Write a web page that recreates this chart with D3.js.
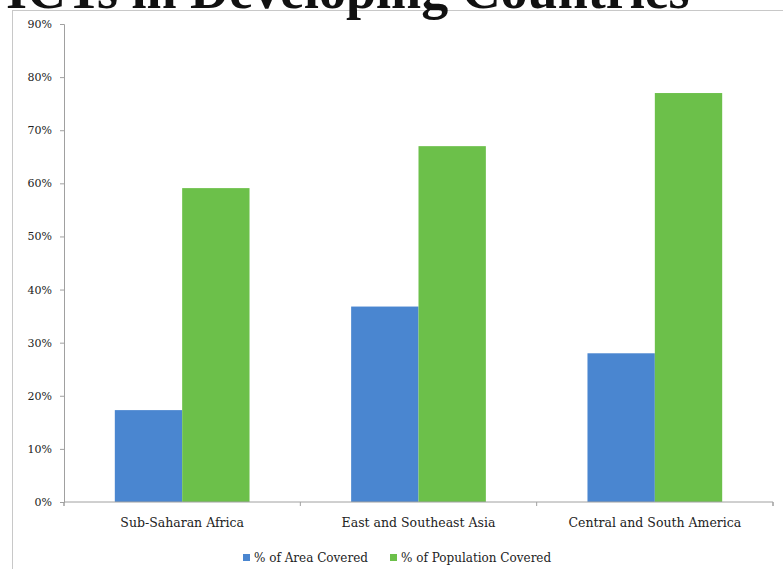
<!DOCTYPE html>
<html><head><meta charset="utf-8">
<script src="https://cdn.jsdelivr.net/npm/d3@7"></script>
<style>
html,body{margin:0;padding:0;background:#fff;overflow:hidden}
svg{display:block}
</style></head>
<body>
<svg id="chart" width="783" height="569"></svg>
<script>
const title = "ICTs in Developing Countries";
const categories = ["Sub-Saharan Africa", "East and Southeast Asia", "Central and South America"];
const seriesNames = ["% of Area Covered", "% of Population Covered"];
const areaCovered = [17.3, 36.8, 28.0];
const populationCovered = [59.1, 67.0, 77.0];
const yTicks = [0, 10, 20, 30, 40, 50, 60, 70, 80, 90];
const colors = ["#4a86d0", "#6cc04a"];

const svg = d3.select("#chart");
const W = 783, H = 569;
const margin = {left: 64, right: 10, top: 24, bottom: 67};

// frame
svg.append("rect").attr("x", 12.5).attr("y", 10.5).attr("width", W).attr("height", H)
  .attr("fill", "#fff").attr("stroke", "#c8c8c8").attr("stroke-width", 1);

const x0 = d3.scaleBand().domain(categories).range([margin.left, 773]).paddingInner(0.43).paddingOuter(0.215);
const x1 = d3.scaleBand().domain(seriesNames).range([0, x0.bandwidth()]);
const y = d3.scaleLinear().domain([0, 90]).range([502, 24]);

const font = "'DejaVu Serif', 'Liberation Serif', serif";

// y axis
const yAxis = d3.axisLeft(y).tickValues(yTicks).tickFormat(d => d + "%").tickSize(4).tickPadding(8);
const gy = svg.append("g").attr("transform", `translate(${margin.left},0)`).call(yAxis);
gy.select(".domain").attr("stroke", "#a0a0a0");
gy.selectAll(".tick line").attr("stroke", "#a0a0a0");
gy.selectAll(".tick text").attr("font-family", font).attr("font-size", 11).attr("fill", "#222");

// bars
const data = categories.map((c, i) => ({cat: c, vals: [areaCovered[i], populationCovered[i]]}));
const groups = svg.append("g").selectAll("g").data(data).join("g")
  .attr("transform", d => `translate(${x0(d.cat)},0)`);
groups.selectAll("rect").data(d => d.vals.map((v, j) => ({s: seriesNames[j], v, j})))
  .join("rect")
  .attr("x", d => x1(d.s))
  .attr("width", x1.bandwidth())
  .attr("y", d => y(d.v))
  .attr("height", d => y(0) - y(d.v))
  .attr("fill", d => colors[d.j]);

// x axis
const xAxis = d3.axisBottom(x0).tickSize(0).tickPadding(16);
const gx = svg.append("g").attr("transform", `translate(0,${y(0)})`).call(xAxis);
gx.select(".domain").attr("stroke", "#a0a0a0").attr("d", `M${margin.left},4V0H773V4`);
gx.selectAll(".tick text").attr("font-family", font).attr("font-size", 12.5).attr("fill", "#222");
// category separator ticks
const seps = [margin.left, ...categories.slice(1).map(c => x0(c) - x0.step() * x0.paddingInner() / 2), 773];
gx.selectAll(".sep").data(seps).join("line").attr("class", "sep")
  .attr("x1", d => d).attr("x2", d => d).attr("y1", 0).attr("y2", 4).attr("stroke", "#a0a0a0");

// legend
const legend = svg.append("g").attr("transform", "translate(0,558)");
const legX = [243, 390];
seriesNames.forEach((s, i) => {
  legend.append("rect").attr("x", legX[i]).attr("y", -4).attr("width", 7).attr("height", 7).attr("fill", colors[i]);
  legend.append("text").attr("x", legX[i] + 11).attr("y", 4)
    .attr("font-family", font).attr("font-size", 12).attr("fill", "#222").text(s);
});

// title (cut off at top)
svg.append("text").attr("x", 6).attr("y", 8)
  .attr("font-family", "'Liberation Serif', 'DejaVu Serif', serif").attr("font-weight", "bold")
  .attr("font-size", 54).attr("fill", "#111").text(title);
</script>
</body></html>
